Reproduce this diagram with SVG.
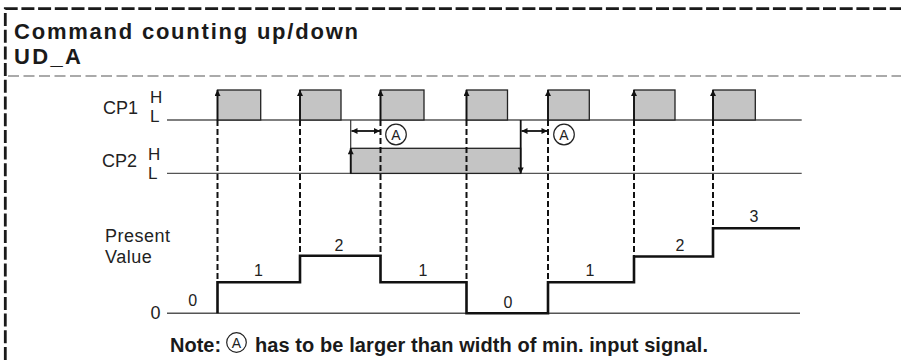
<svg xmlns="http://www.w3.org/2000/svg" width="901" height="360" viewBox="0 0 901 360">
<defs>
<marker id="ah" viewBox="0 0 10 10" refX="10" refY="5" markerWidth="7" markerHeight="6" markerUnits="userSpaceOnUse" orient="auto-start-reverse"><path d="M0,0 L10,5 L0,10 z" fill="#111"/></marker>
</defs>
<style>
.t{font-family:"Liberation Sans",Arial,sans-serif;fill:#222}
.title{font-weight:bold;font-size:22px;fill:#1a1a1a}
.note{font-weight:bold;font-size:20px;fill:#1a1a1a}
.lbl{font-size:17px}
.cp{font-size:18px}
.pv{font-size:18px;letter-spacing:0.5px}
.num{font-size:16px}
.ca{font-size:14px}
.pulse{fill:#c4c4c4;stroke:#222;stroke-width:1.3}
.base{stroke:#555;stroke-width:1.4;fill:none}
.dash{stroke:#111;stroke-width:2;stroke-dasharray:6 3;fill:none}
.edge{stroke:#111;stroke-width:1.8;fill:none}
.thin{stroke:#333;stroke-width:1.2;fill:none}
.step{stroke:#111;stroke-width:2.6;fill:none}
.circ{fill:#fff;stroke:#222;stroke-width:1.2}
</style>
<rect x="0" y="0" width="901" height="360" fill="#fff"/>
<g id="frame">
<path d="M5.3,360 V8.7 H901" fill="none" stroke="#1a1a1a" stroke-width="2.8" stroke-dasharray="13 3.7"/>
<path d="M8,76 H901" fill="none" stroke="#aaa" stroke-width="2" stroke-dasharray="11 4.5"/>
</g>
<g id="title">
<text class="t title" x="14" y="38.5" textLength="344" lengthAdjust="spacing">Command counting up/down</text>
<text class="t title" x="14" y="64.3" textLength="67" lengthAdjust="spacing">UD_A</text>
</g>
<g id="cp1">
<text class="t cp" x="103" y="114">CP1</text>
<text class="t lbl" x="150" y="103">H</text>
<text class="t lbl" x="150" y="122">L</text>
<line class="base" x1="167" y1="120" x2="801.7" y2="120"/>
<rect class="pulse" x="217.5" y="90" width="43.2" height="30"/>
<rect class="pulse" x="300" y="90" width="41" height="30"/>
<rect class="pulse" x="380.5" y="90" width="43.5" height="30"/>
<rect class="pulse" x="466.5" y="90" width="41" height="30"/>
<rect class="pulse" x="548" y="90" width="41.3" height="30"/>
<rect class="pulse" x="634" y="90" width="41" height="30"/>
<rect class="pulse" x="713" y="90" width="42.3" height="30"/>
</g>
<g id="cp2">
<text class="t cp" x="102" y="167">CP2</text>
<text class="t lbl" x="148" y="160">H</text>
<text class="t lbl" x="148" y="179">L</text>
<line class="base" x1="167" y1="173.4" x2="801.7" y2="173.4"/>
<rect class="pulse" x="350.7" y="148.3" width="170" height="25.1"/>
</g>
<g id="present-value">
<text class="t pv" x="105" y="241.7">Present</text>
<text class="t pv" x="105" y="263.3">Value</text>
<text class="t cp" x="150.5" y="319">0</text>
<line class="base" x1="167" y1="313.3" x2="800" y2="313.3"/>
<path class="step" d="M217.5,313.3 V282.3 H300 V255.7 H380.5 V282.3 H466.5 V313.3 H548 V282.3 H634 V256.5 H713 V228.3 H800"/>
<g class="t num" text-anchor="middle">
<text x="192.7" y="305.5">0</text>
<text x="258.5" y="275.5">1</text>
<text x="339" y="251">2</text>
<text x="423" y="275.5">1</text>
<text x="508" y="307.5">0</text>
<text x="590" y="275.5">1</text>
<text x="680" y="251">2</text>
<text x="754" y="222">3</text>
</g>
</g>
<g id="connectors">
<line class="dash" x1="217.5" y1="120" x2="217.5" y2="282.3"/>
<line class="dash" x1="300" y1="120" x2="300" y2="255.7"/>
<line class="dash" x1="380.5" y1="120" x2="380.5" y2="255.7"/>
<line class="dash" x1="466.5" y1="120" x2="466.5" y2="282.3"/>
<line class="dash" x1="548" y1="120" x2="548" y2="282.3"/>
<line class="dash" x1="634" y1="120" x2="634" y2="256.5"/>
<line class="dash" x1="713" y1="120" x2="713" y2="228.3"/>
<line class="edge" x1="217.5" y1="120" x2="217.5" y2="90" marker-end="url(#ah)"/>
<line class="edge" x1="300" y1="120" x2="300" y2="90" marker-end="url(#ah)"/>
<line class="edge" x1="380.5" y1="120" x2="380.5" y2="90" marker-end="url(#ah)"/>
<line class="edge" x1="466.5" y1="120" x2="466.5" y2="90" marker-end="url(#ah)"/>
<line class="edge" x1="548" y1="120" x2="548" y2="90" marker-end="url(#ah)"/>
<line class="edge" x1="634" y1="120" x2="634" y2="90" marker-end="url(#ah)"/>
<line class="edge" x1="713" y1="120" x2="713" y2="90" marker-end="url(#ah)"/>
<line class="thin" x1="350.7" y1="120" x2="350.7" y2="148.3"/>
<line class="edge" x1="350.7" y1="173.4" x2="350.7" y2="148.3" marker-end="url(#ah)"/>
<line class="edge" x1="520.7" y1="120" x2="520.7" y2="173.4" marker-end="url(#ah)"/>
<line class="edge" x1="351.5" y1="131" x2="380" y2="131" stroke-width="1.5" marker-start="url(#ah)" marker-end="url(#ah)"/>
<line class="edge" x1="521.5" y1="131" x2="547.5" y2="131" stroke-width="1.5" marker-start="url(#ah)" marker-end="url(#ah)"/>
</g>
<g id="mark-a1">
<circle class="circ" cx="396" cy="134.5" r="10.3"/>
<text class="t ca" x="396" y="139.6" text-anchor="middle">A</text>
</g>
<g id="mark-a2">
<circle class="circ" cx="564" cy="134.5" r="10.3"/>
<text class="t ca" x="564" y="139.6" text-anchor="middle">A</text>
</g>
<g id="note">
<text class="t note" x="170" y="351.7">Note:</text>
<circle class="circ" cx="236.5" cy="342.5" r="9.8"/>
<text class="t ca" x="236.5" y="347.5" text-anchor="middle">A</text>
<text class="t note" x="255" y="351.7" textLength="453" lengthAdjust="spacing">has to be larger than width of  min. input signal.</text>
</g>
</svg>
